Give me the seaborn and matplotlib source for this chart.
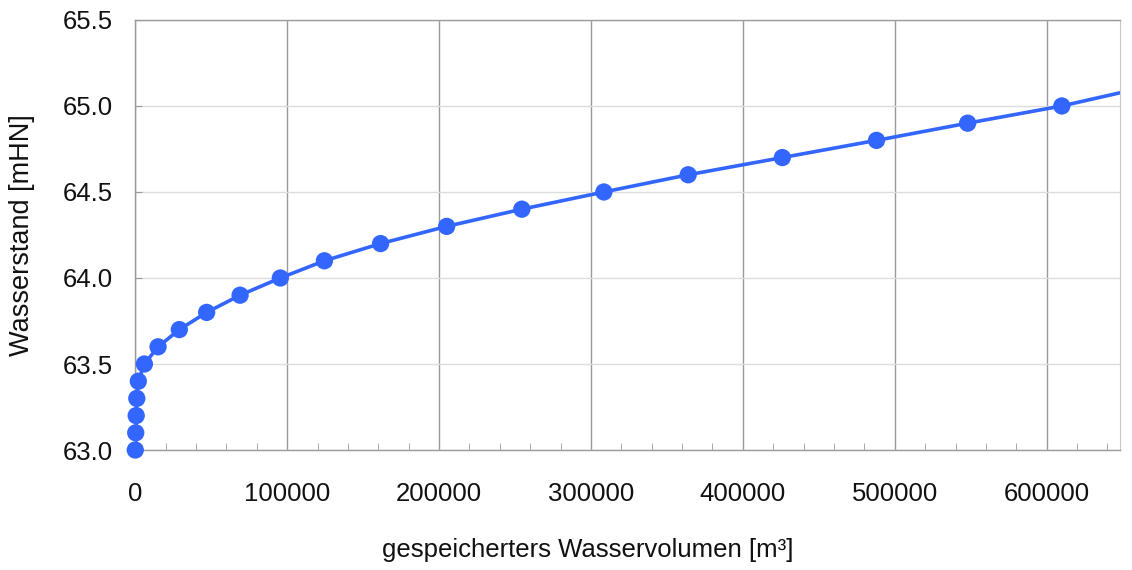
import numpy as np
import pandas as pd
import matplotlib
matplotlib.use("Agg")
import matplotlib.pyplot as plt
import seaborn as sns
from matplotlib.ticker import MultipleLocator

# stored water volume [m3] and water level [mHN]
volume = [0, 300, 600, 1000, 2000, 6000, 15000, 29000, 47000, 69000, 95500,
          124500, 161500, 205000, 254500, 308500, 364000, 426000, 488000,
          548000, 610000]
level = [63.0, 63.1, 63.2, 63.3, 63.4, 63.5, 63.6, 63.7, 63.8, 63.9, 64.0,
         64.1, 64.2, 64.3, 64.4, 64.5, 64.6, 64.7, 64.8, 64.9, 65.0]

# curve continues past the last point to the right edge
curve_end_volume = [650000]
curve_end_level = [65.08]

df = pd.DataFrame({'volume': volume, 'level': level})
curve = pd.DataFrame({'volume': volume + curve_end_volume,
                      'level': level + curve_end_level})

sns.set_style('white')
plt.rcParams['font.family'] = ['Liberation Sans', 'DejaVu Sans']

blue = '#3366ff'
fig = plt.figure(figsize=(11.32, 5.70), dpi=100)
ax = fig.add_axes([0.1195, 0.2105, 0.8695, 0.7545])

sns.lineplot(data=curve, x='volume', y='level', color=blue, lw=2.6,
             ax=ax, sort=False)
sns.scatterplot(data=df, x='volume', y='level', color=blue, s=155,
                edgecolor='none', ax=ax, zorder=5, clip_on=False)

ax.set_xlim(0, 648000)
ax.set_ylim(63.0, 65.5)
ax.xaxis.set_major_locator(MultipleLocator(100000))
ax.xaxis.set_minor_locator(MultipleLocator(20000))
ax.set_yticks(np.arange(63.0, 65.51, 0.5))
ax.set_yticklabels([f'{v:.1f}' for v in np.arange(63.0, 65.51, 0.5)])

ax.grid(axis='x', which='major', color='#9a9a9a', lw=1.0)
ax.grid(axis='y', which='major', color='#dcdcdc', lw=1.0)
ax.set_axisbelow(True)

for side in ['left', 'top', 'bottom']:
    ax.spines[side].set_color('#9a9a9a')
    ax.spines[side].set_linewidth(1.0)
ax.spines['right'].set_color('#c8c8c8')

ax.tick_params(axis='x', which='major', direction='in', length=0,
               labelsize=18.5, labelcolor='#111111', pad=23)
ax.tick_params(axis='x', which='minor', direction='in', length=5,
               color='#9a9a9a', bottom=True)
ax.tick_params(axis='y', which='major', direction='in', length=5,
               color='#9a9a9a', labelsize=18.5, labelcolor='#111111',
               pad=16, left=True)

ax.set_xlabel('gespeicherters Wasservolumen [m³]', fontsize=18.5,
              color='#111111')
ax.xaxis.set_label_coords(0.46, -0.205)
ax.set_ylabel('Wasserstand [mHN]', fontsize=19.5, color='#111111')
ax.yaxis.set_label_coords(-0.1015, 0.5)

fig.savefig('out.png', dpi=100)
